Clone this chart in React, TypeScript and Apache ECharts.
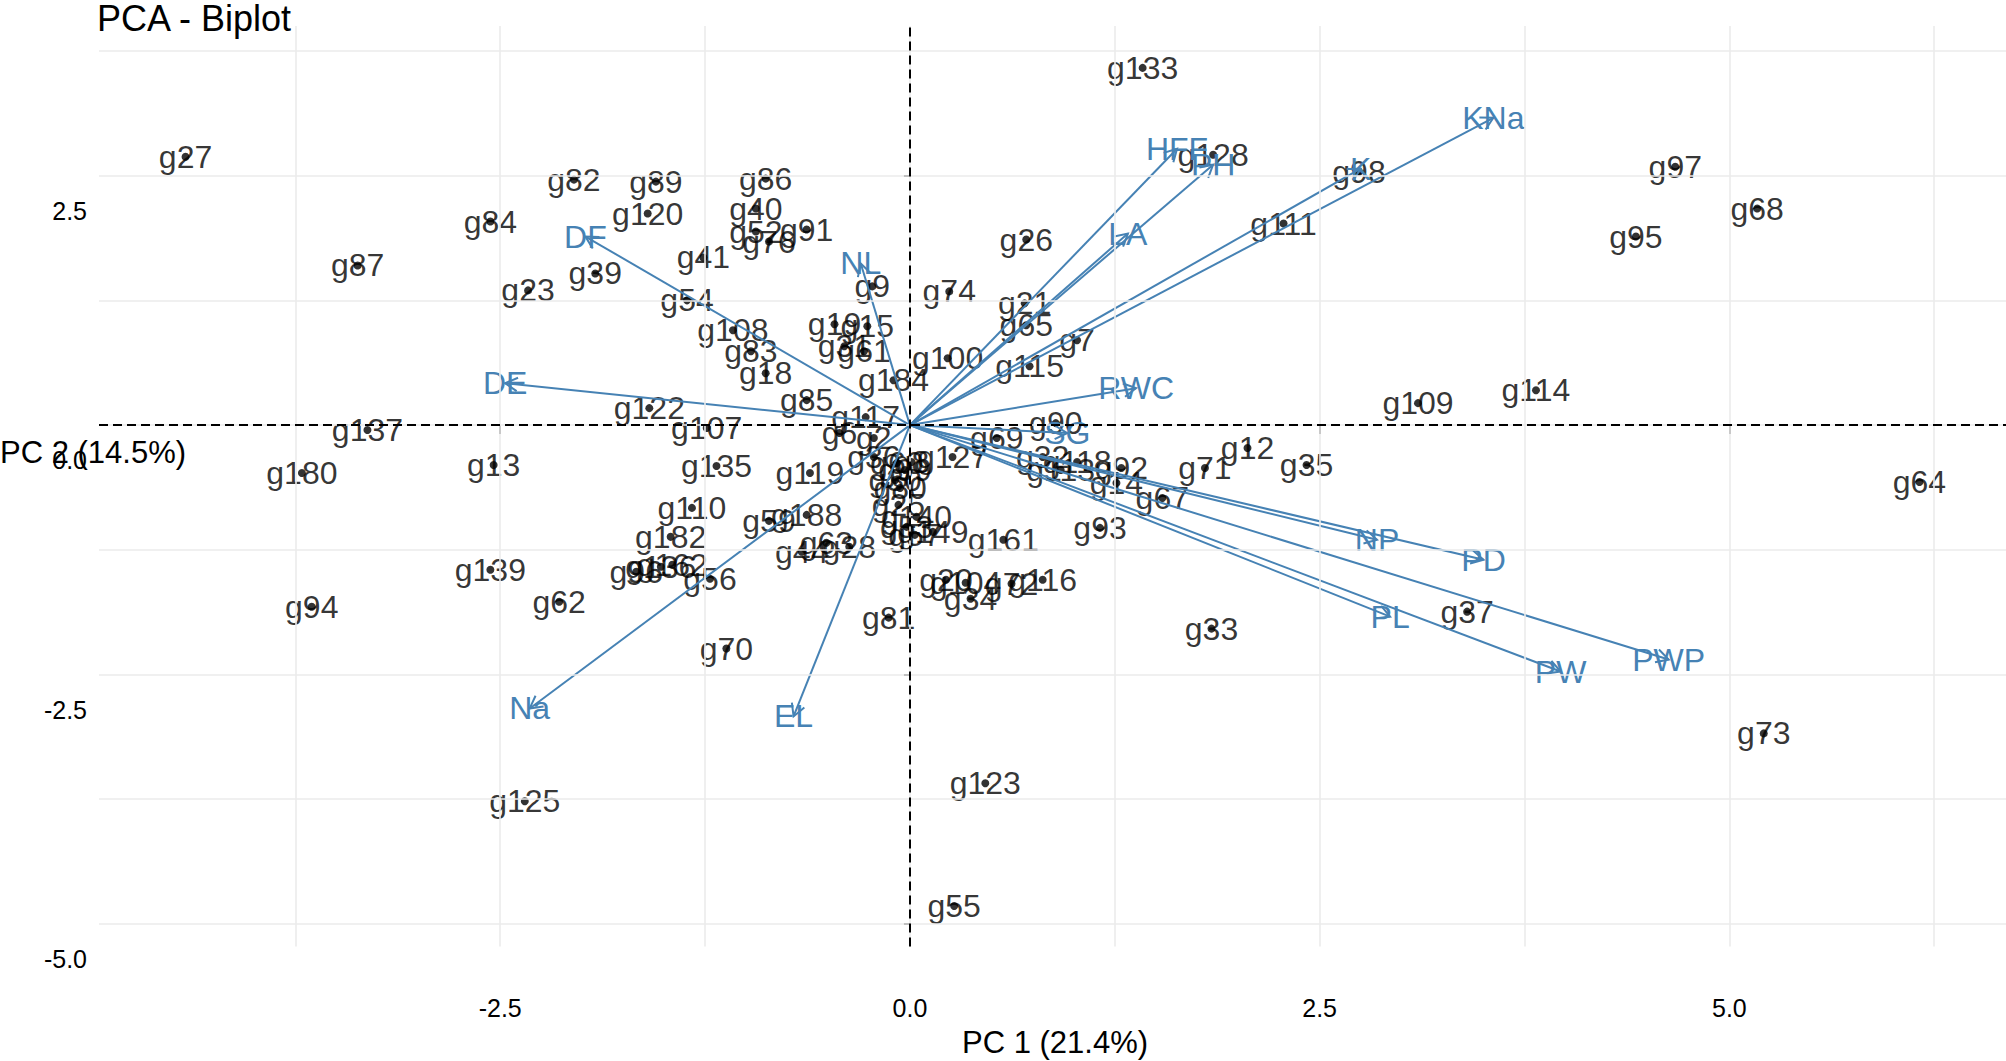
import React, { useEffect, useRef } from "react";
import * as echarts from "echarts";

const FONT = "'Liberation Sans', Arial, Helvetica, sans-serif";
const BLUE = "#4682B4";

const genotypes = [
  "g27", "g82", "g89", "g120", "g84", "g87", "g23", "g39", "g86", "g40",
  "g52", "g76", "g91", "g41", "g54", "g108", "g83", "g18", "g85", "g122",
  "g107", "g9", "g19", "g15", "g31", "g61", "g184", "g117", "g6", "g2",
  "g74", "g100", "g133", "g128", "g26", "g21", "g65", "g7", "g115", "g111",
  "g98", "g97", "g68", "g95", "g109", "g114", "g64", "g37", "g73", "g90",
  "g69", "g12", "g35", "g71", "g92", "g118", "g32", "g113", "g14", "g67",
  "g93", "g127", "g161", "g149", "g116", "g72", "g20", "g104", "g34", "g33",
  "g123", "g55", "g125", "g81", "g70", "g137", "g180", "g13", "g139", "g94",
  "g62", "g135", "g119", "g110", "g182", "g162", "g96", "g136", "g56", "g59",
  "g188", "g44", "g63", "g28", "g36", "g60", "g99", "g30", "g8", "g80",
  "g25", "g140", "g53", "g57",
];
const genoPC1 = [
  -4.42, -2.05, -1.55, -1.6, -2.56, -3.37, -2.33, -1.92, -0.88, -0.94,
  -0.94, -0.86, -0.63, -1.26, -1.36, -1.08, -0.97, -0.88, -0.63, -1.59,
  -1.24, -0.23, -0.46, -0.26, -0.4, -0.28, -0.1, -0.27, -0.43, -0.22,
  0.24, 0.23, 1.42, 1.85, 0.71, 0.7, 0.71, 1.02, 0.73, 2.28,
  2.74, 4.67, 5.17, 4.43, 3.1, 3.82, 6.16, 3.4, 5.21, 0.89,
  0.53, 2.06, 2.42, 1.8, 1.29, 1.02, 0.81, 0.92, 1.26, 1.54,
  1.16, 0.26, 0.57, 0.14, 0.81, 0.62, 0.22, 0.34, 0.37, 1.84,
  0.46, 0.27, -2.35, -0.13, -1.12, -3.31, -3.71, -2.54, -2.56, -3.65,
  -2.14, -1.18, -0.61, -1.33, -1.46, -1.45, -1.67, -1.52, -1.22, -0.86,
  -0.63, -0.66, -0.51, -0.37, -0.22, -0.08, -0.03, -0.09, 0.01, -0.06,
  -0.07, 0.04, -0.02, 0.03,
];
const genoPC2 = [
  2.69, 2.46, 2.44, 2.12, 2.04, 1.6, 1.35, 1.52, 2.47, 2.17,
  1.94, 1.84, 1.96, 1.68, 1.25, 0.95, 0.74, 0.52, 0.25, 0.17,
  -0.03, 1.39, 1.01, 0.99, 0.79, 0.74, 0.45, 0.08, -0.08, -0.13,
  1.34, 0.67, 3.58, 2.71, 1.86, 1.22, 1.0, 0.85, 0.59, 2.02,
  2.54, 2.59, 2.17, 1.89, 0.22, 0.35, -0.57, -1.87, -3.09, 0.02,
  -0.13, -0.23, -0.4, -0.43, -0.43, -0.37, -0.32, -0.45, -0.58, -0.73,
  -1.03, -0.32, -1.15, -1.07, -1.55, -1.59, -1.55, -1.58, -1.74, -2.04,
  -3.59, -4.82, -3.77, -1.93, -2.24, -0.05, -0.48, -0.4, -1.45, -1.82,
  -1.77, -0.41, -0.48, -0.83, -1.12, -1.4, -1.47, -1.42, -1.54, -0.96,
  -0.9, -1.27, -1.18, -1.22, -0.32, -0.38, -0.45, -0.55, -0.37, -0.63,
  -0.8, -0.92, -1.02, -1.1,
];

const variables = [
  "KNa", "K", "HFF", "PH", "LA", "RWC", "SG", "NP", "PD",
  "PL", "PW", "PWP", "EL", "Na", "DE", "DF", "NL",
];
const varPC1 = [3.56, 2.75, 1.63, 1.85, 1.33, 1.38, 0.96, 2.85, 3.5, 2.93, 3.97, 4.63, -0.71, -2.32, -2.47, -1.98, -0.3];
const varPC2 = [3.08, 2.57, 2.77, 2.61, 1.92, 0.37, -0.08, -1.15, -1.35, -1.92, -2.47, -2.35, -2.92, -2.84, 0.42, 1.89, 1.62];

const xTickValues = [-2.5, 0, 2.5, 5];
const yTickValues = [-5, -2.5, 0, 2.5];
const xGridValues = [-3.75, -2.5, -1.25, 0, 1.25, 2.5, 3.75, 5, 6.25];
const yGridValues = [-5, -3.75, -2.5, -1.25, 0, 1.25, 2.5, 3.75];

export default function App() {
  const ref = useRef<HTMLDivElement>(null);

  useEffect(() => {
    if (!ref.current) return;
    const chart = echarts.init(ref.current, undefined, { renderer: "svg" });

    const renderArrow = (params: any, api: any) => {
      const x = api.value(0);
      const y = api.value(1);
      const p0 = api.coord([0, 0]);
      const p1 = api.coord([x, y]);
      const ang = Math.atan2(p1[1] - p0[1], p1[0] - p0[0]);
      const head = 14;
      const spread = 0.5;
      const a1 = [p1[0] - head * Math.cos(ang - spread), p1[1] - head * Math.sin(ang - spread)];
      const a2 = [p1[0] - head * Math.cos(ang + spread), p1[1] - head * Math.sin(ang + spread)];
      return {
        type: "group",
        children: [
          {
            type: "line",
            shape: { x1: p0[0], y1: p0[1], x2: p1[0], y2: p1[1] },
            style: { stroke: BLUE, lineWidth: 2 },
          },
          {
            type: "polyline",
            shape: { points: [a1, p1, a2] },
            style: { stroke: BLUE, lineWidth: 2, fill: null },
          },
          {
            type: "text",
            x: p1[0],
            y: p1[1],
            style: {
              text: variables[params.dataIndex],
              fill: BLUE,
              fontSize: 32,
              fontFamily: FONT,
              align: "center",
              verticalAlign: "middle",
            },
          },
        ],
      };
    };

    const option: any = {
      animation: false,
      backgroundColor: "#ffffff",
      textStyle: { fontFamily: FONT },
      title: {
        text: "PCA - Biplot",
        left: 97,
        top: 0,
        padding: 0,
        textStyle: { fontSize: 36, fontWeight: "normal", color: "#000", fontFamily: FONT },
      },
      grid: { left: 99, top: 26, right: 0, bottom: 114.5, containLabel: false },
      xAxis: {
        type: "value",
        min: -4.948,
        max: 6.688,
        axisLine: { show: false },
        splitLine: { show: false },
        axisTick: {
          show: true,
          customValues: xTickValues,
          length: 9,
          lineStyle: { color: "#000", width: 1.5 },
        },
        axisLabel: {
          customValues: xTickValues,
          formatter: (v: number) => v.toFixed(1),
          margin: 49,
          fontSize: 25,
          color: "#000",
          fontFamily: FONT,
        },
      },
      yAxis: {
        type: "value",
        min: -5.226,
        max: 4.0,
        axisLine: { show: false },
        splitLine: { show: false },
        axisTick: {
          show: true,
          customValues: yTickValues,
          length: 6,
          lineStyle: { color: "#000", width: 1.5 },
        },
        axisLabel: {
          customValues: yTickValues,
          formatter: (v: number) => "{t|" + v.toFixed(1) + "}",
          margin: 12,
          color: "#000",
          fontFamily: FONT,
          rich: {
            t: {
              fontSize: 25,
              color: "#000",
              fontFamily: FONT,
              padding: [70, 0, 0, 0],
            },
          },
        },
      },
      graphic: [
        {
          type: "text",
          left: 962,
          top: 1027,
          style: { text: "PC 1 (21.4%)", fontSize: 31, fill: "#000", fontFamily: FONT },
        },
        {
          type: "text",
          left: 0,
          top: 437,
          style: { text: "PC 2 (14.5%)", fontSize: 31, fill: "#000", fontFamily: FONT },
          z: 10,
        },
      ],
      series: [
        {
          type: "scatter",
          data: [],
          z: 1,
          silent: true,
          markLine: {
            silent: true,
            symbol: "none",
            label: { show: false },
            lineStyle: { color: "#EBEBEB", width: 1.6, type: "solid" },
            data: [
              ...xGridValues.map((v) => ({ xAxis: v })),
              ...yGridValues.map((v) => ({ yAxis: v })),
            ],
          },
        },
        {
          type: "scatter",
          data: [],
          z: 2,
          silent: true,
          markLine: {
            silent: true,
            symbol: "none",
            label: { show: false },
            lineStyle: { color: "#000", width: 2, type: [9, 5] },
            data: [{ xAxis: 0 }, { yAxis: 0 }],
          },
        },
        {
          type: "scatter",
          z: 3,
          symbol: "circle",
          symbolSize: 8,
          itemStyle: { color: "#000" },
          label: {
            show: true,
            position: "inside",
            formatter: "{b}",
            color: "#000",
            fontSize: 32,
            fontFamily: FONT,
            textBorderWidth: 0,
          },
          data: genotypes.map((n, i) => ({ name: n, value: [genoPC1[i], genoPC2[i]] })),
        },
        {
          type: "custom",
          coordinateSystem: "cartesian2d",
          z: 4,
          silent: true,
          clip: false,
          renderItem: renderArrow,
          data: variables.map((n, i) => ({ name: n, value: [varPC1[i], varPC2[i]] })),
        },
      ],
    };

    chart.setOption(option);
    return () => chart.dispose();
  }, []);

  return (
    <div
      ref={ref}
      style={{ position: "fixed", left: 0, top: 0, width: 2006, height: 1061, background: "#fff" }}
    />
  );
}
